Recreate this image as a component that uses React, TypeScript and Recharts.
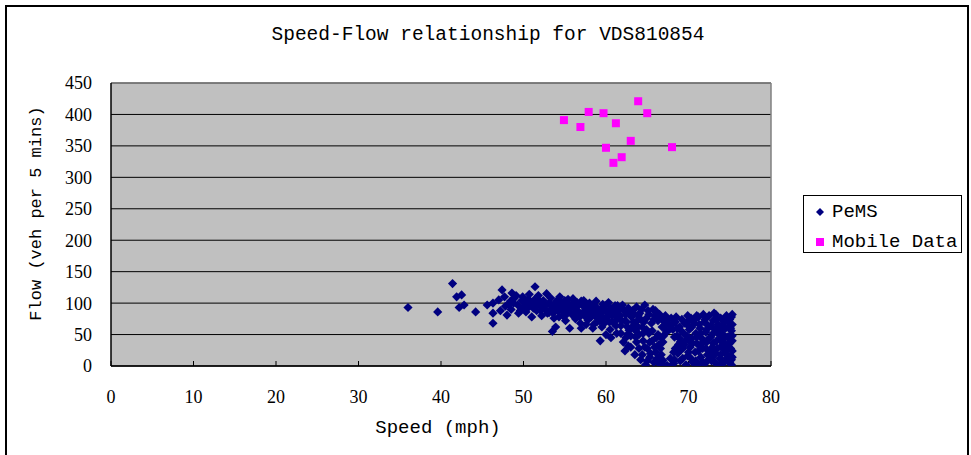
import React from 'react';
import {
  ScatterChart,
  Scatter,
  XAxis,
  YAxis,
  CartesianGrid,
  Legend,
  ReferenceLine,
  Label,
} from 'recharts';

const chartTitle = 'Speed-Flow relationship for VDS810854';
const xAxisTitle = 'Speed (mph)';
const yAxisTitle = 'Flow (veh per 5 mins)';
const seriesNames = ['PeMS', 'Mobile Data'];

const xTicks = [0, 10, 20, 30, 40, 50, 60, 70, 80];
const yTicks = [0, 50, 100, 150, 200, 250, 300, 350, 400, 450];

const mobileSpeed = [54.9, 56.9, 57.9, 59.7, 60.0, 61.2, 60.9, 61.9, 63.0, 63.9, 65.0, 68.0];
const mobileFlow = [391, 380, 404, 402, 347, 386, 323, 332, 358, 421, 402, 348];

const pemsPoints: [number, number][] = [
  [36.0, 93], [39.6, 86], [41.4, 131], [41.9, 110], [42.5, 113], [42.2, 93], [42.8, 97],
  [44.2, 86], [45.6, 97], [46.3, 100], [46.3, 68], [46.3, 84], [47.4, 121], [48.6, 116],
  [47.0, 105], [48.0, 81], [47.8, 95],
  [48.4, 103], [48.9, 108], [49.3, 97], [49.6, 88], [49.9, 110], [50.2, 101], [50.5, 92],
  [50.7, 114], [51.0, 78], [51.0, 97], [51.4, 126], [51.3, 105], [51.6, 88], [51.8, 112],
  [52.0, 96], [52.2, 80], [52.4, 104], [52.6, 91], [52.8, 115],
  [47.2, 88], [47.7, 110], [48.2, 98], [48.5, 90], [48.8, 100], [49.1, 112], [49.4, 84],
  [49.8, 104], [50.0, 94], [50.3, 86], [50.6, 106], [50.9, 100], [51.2, 92], [51.5, 99],
  [51.9, 104], [52.1, 88], [52.5, 97], [52.9, 84],
  [53.0, 99], [53.1, 85], [53.3, 108], [53.5, 55], [53.5, 92], [53.7, 76], [53.9, 62],
  [54.0, 103], [54.2, 88], [54.4, 110], [54.6, 96], [54.8, 80], [55.0, 104], [55.1, 72],
  [55.3, 90], [55.5, 98], [55.6, 60], [55.8, 83], [56.0, 107], [56.2, 94], [56.3, 75],
  [56.5, 101], [56.7, 86], [56.9, 68], [57.1, 97], [57.3, 104], [57.4, 80], [57.6, 90],
  [57.8, 73], [58.0, 100], [58.1, 86], [58.3, 94], [58.5, 66], [58.7, 79], [58.8, 103],
  [53.2, 100], [53.6, 84], [53.8, 97], [54.1, 92], [54.3, 78], [54.5, 101], [54.7, 87],
  [54.9, 95], [55.2, 82], [55.4, 106], [55.7, 92], [55.9, 99], [56.1, 80], [56.4, 88],
  [56.6, 96], [56.8, 78], [57.0, 103], [57.2, 85], [57.5, 95], [57.7, 84], [57.9, 92],
  [58.2, 78], [58.4, 88], [58.6, 97], [58.9, 84],
  [57.0, 60], [57.6, 66], [58.4, 60], [58.9, 70], [59.5, 62],
  [59.0, 91], [59.2, 72], [59.3, 40], [59.4, 84], [59.6, 98], [59.8, 68], [60.0, 88],
  [60.1, 78], [60.3, 101], [60.5, 58], [60.6, 92], [60.8, 70], [61.0, 83], [61.1, 96],
  [61.3, 52], [61.5, 76], [61.6, 89], [61.8, 64], [62.0, 97], [62.1, 38], [62.3, 24],
  [62.4, 82], [62.5, 70], [62.7, 92], [62.8, 57], [63.0, 30], [63.1, 78], [63.2, 88],
  [63.4, 64], [63.5, 18], [63.7, 94], [63.8, 72], [64.0, 50], [64.1, 84], [64.2, 10],
  [64.4, 62], [64.5, 40],
  [59.1, 80], [59.5, 92], [59.7, 76], [59.9, 96], [60.2, 84], [60.4, 70], [60.7, 80],
  [60.9, 90], [61.2, 64], [61.4, 96], [61.7, 80], [61.9, 72], [62.2, 88], [62.6, 62],
  [62.9, 84], [63.3, 70], [63.6, 56], [63.9, 80], [64.3, 90], [62.4, 45], [63.0, 48],
  [63.7, 38], [62.7, 32],
  [60.0, 50], [60.6, 45], [61.0, 70], [61.3, 86], [61.8, 52], [62.3, 72], [62.6, 50],
  [63.0, 60], [63.3, 84], [63.6, 46], [63.9, 62], [64.2, 74], [64.5, 52], [64.0, 28],
  [64.4, 18],
  [64.7, 97], [64.8, 2], [64.9, 76], [65.0, 28], [65.1, 88], [65.2, 52], [65.3, 14],
  [65.5, 68], [65.6, 40], [65.7, 90], [65.8, 6], [65.9, 80], [66.0, 22], [66.1, 45],
  [66.3, 72], [66.4, 34], [66.5, 3],
  [64.6, 70], [64.7, 30], [64.9, 58], [65.0, 8], [65.2, 82], [65.3, 38], [65.4, 20],
  [65.6, 56], [65.8, 74], [65.9, 30], [66.0, 88], [66.2, 12], [66.3, 50], [66.5, 82],
  [66.6, 28],
  [66.7, 76], [66.8, 62], [66.9, 9], [67.1, 70], [67.3, 54], [67.4, 1], [67.6, 66],
  [67.8, 12], [67.9, 76], [68.1, 58], [68.2, 4], [68.4, 70],
  [66.8, 4], [67.0, 62], [67.2, 80], [67.5, 74], [67.7, 58], [68.0, 66], [68.3, 10],
  [68.0, 2],
  [66.6, 46], [66.7, 18], [67.0, 48], [68.3, 46], [68.4, 28], [66.9, 38], [68.2, 22],
  [68.6, 48], [68.7, 20], [68.8, 34], [68.9, 62], [69.0, 8], [69.2, 74], [69.3, 28],
  [69.4, 52], [69.6, 40], [69.7, 2], [69.8, 66], [69.9, 16], [70.1, 58], [70.2, 30],
  [70.3, 76], [70.4, 44], [70.5, 6],
  [68.5, 78], [68.6, 60], [68.9, 44], [69.1, 26], [69.1, 56], [69.3, 12], [69.5, 68],
  [69.5, 34], [69.8, 48], [70.0, 22], [70.0, 72], [70.3, 12], [70.4, 62], [70.5, 36],
  [69.0, 38], [69.9, 80], [70.1, 40],
  [70.7, 68], [70.8, 22], [70.9, 52], [71.0, 36], [71.1, 2], [71.2, 78], [71.4, 60],
  [71.5, 14], [71.6, 44], [71.7, 28], [71.9, 70], [72.0, 4], [72.1, 54], [72.2, 38],
  [72.3, 18], [72.4, 64], [72.5, 80],
  [70.8, 74], [70.9, 8], [71.0, 46], [71.2, 24], [71.3, 66], [71.5, 52], [71.7, 6],
  [71.8, 38], [72.0, 74], [72.1, 28], [72.2, 58], [72.4, 10], [72.5, 44],
  [71.0, 80], [71.8, 82], [71.4, 32],
  [72.7, 46], [72.8, 8], [72.9, 30], [73.0, 72], [73.1, 84], [73.2, 58], [73.3, 20],
  [73.4, 40], [73.5, 2], [73.6, 66], [73.7, 50], [73.8, 12], [73.9, 76], [74.0, 32],
  [72.7, 64], [72.8, 24], [73.0, 52], [73.0, 36], [73.2, 6], [73.4, 74], [73.5, 28],
  [73.6, 56], [73.8, 42], [73.9, 18], [74.0, 64], [74.0, 4],
  [72.9, 14], [73.3, 82], [74.1, 38],
  [74.1, 58], [74.2, 4], [74.3, 44], [74.4, 70], [74.5, 20], [74.6, 80], [74.7, 34],
  [74.8, 8], [74.9, 62], [75.0, 48], [75.0, 74], [75.1, 16], [75.1, 28], [75.2, 2],
  [75.2, 56], [75.3, 40], [75.3, 66], [75.3, 82], [75.2, 10], [75.3, 24],
  [74.2, 50], [74.3, 26], [74.5, 74], [74.5, 60], [74.6, 12], [74.7, 46], [74.8, 70],
  [74.9, 28], [75.0, 36], [75.0, 6], [75.1, 60], [75.2, 78], [75.3, 48], [75.3, 14],
];

const pemsData = pemsPoints.map(([speed, flow]) => ({ speed, flow }));
const mobileData = mobileSpeed.map((speed, i) => ({ speed, flow: mobileFlow[i] }));

const NAVY = '#000080';
const MAGENTA = '#FF00FF';
const MONO = '"Liberation Mono", "DejaVu Sans Mono", monospace';
const SERIF = '"Liberation Serif", "DejaVu Serif", serif';

const DiamondShape = (props: any) => {
  const { cx, cy } = props;
  const r = 4.6;
  return (
    <polygon
      points={`${cx},${cy - r} ${cx + r},${cy} ${cx},${cy + r} ${cx - r},${cy}`}
      fill={NAVY}
    />
  );
};

const SquareShape = (props: any) => {
  const { cx, cy } = props;
  return <rect x={cx - 4} y={cy - 4} width={8} height={8} fill={MAGENTA} />;
};

const renderLegend = () => (
  <div
    style={{
      position: 'relative',
      width: 159,
      height: 58,
      boxSizing: 'border-box',
      border: '1px solid #000',
      background: '#fff',
      fontFamily: MONO,
      fontSize: 19,
      color: '#000',
    }}
  >
    <svg width={14} height={14} style={{ position: 'absolute', left: 9, top: 9 }}>
      <polygon points="7,3 11,7 7,11 3,7" fill={NAVY} />
    </svg>
    <div style={{ position: 'absolute', left: 28, top: 6, lineHeight: '21px', whiteSpace: 'nowrap' }}>
      {seriesNames[0]}
    </div>
    <svg width={14} height={14} style={{ position: 'absolute', left: 9, top: 39 }}>
      <rect x={3} y={3} width={8} height={8} fill={MAGENTA} />
    </svg>
    <div style={{ position: 'absolute', left: 28, top: 36, lineHeight: '21px', whiteSpace: 'nowrap' }}>
      {seriesNames[1]}
    </div>
  </div>
);

const YTitle = (props: any) => {
  const vb = props.viewBox || { x: 0, y: 83, width: 111, height: 283 };
  const x = vb.x + 41;
  const y = vb.y + vb.height / 2 - 11;
  return (
    <text
      x={x}
      y={y}
      transform={`rotate(-90, ${x}, ${y})`}
      textAnchor="middle"
      fontFamily={MONO}
      fontSize={17}
      fill="#000"
    >
      {yAxisTitle}
    </text>
  );
};

export default function App() {
  return (
    <div
      style={{
        position: 'absolute',
        left: 0,
        top: 0,
        width: 971,
        height: 455,
        background: '#fff',
        overflow: 'hidden',
      }}
    >
      <div
        style={{
          position: 'absolute',
          left: 5,
          top: 5,
          width: 964,
          height: 470,
          boxSizing: 'border-box',
          border: '2px solid #000',
        }}
      />
      <div
        style={{
          position: 'absolute',
          left: 0,
          top: 26,
          width: 976,
          textAlign: 'center',
          fontFamily: MONO,
          fontSize: 19.5,
          lineHeight: '19px',
          whiteSpace: 'nowrap',
          color: '#000',
        }}
      >
        {chartTitle}
      </div>
      <div style={{ position: 'absolute', left: 0, top: 0 }}>
        <ScatterChart
          width={971}
          height={455}
          margin={{ top: 83, right: 200, bottom: 0, left: 0 }}
        >
          <CartesianGrid
            vertical={false}
            stroke="#000"
            strokeWidth={1}
            fill="#C0C0C0"
            fillOpacity={1}
          />
          <XAxis
            type="number"
            dataKey="speed"
            domain={[0, 80]}
            ticks={xTicks}
            interval={0}
            height={89}
            axisLine={{ stroke: '#000', strokeWidth: 1.5 }}
            tickLine={{ stroke: '#000' }}
            tickSize={-5}
            tickMargin={29}
            tick={{ fill: '#000', fontFamily: SERIF, fontSize: 18 }}
            allowDataOverflow
          >
            <Label
              value={xAxisTitle}
              position="insideTop"
              offset={54}
              fill="#000"
              fontFamily={MONO}
              fontSize={19}
              dx={-3}
            />
          </XAxis>
          <YAxis
            type="number"
            dataKey="flow"
            domain={[0, 450]}
            ticks={yTicks}
            interval={0}
            width={111}
            axisLine={{ stroke: '#000', strokeWidth: 1.5 }}
            tickLine={false}
            tickSize={0}
            tickMargin={19}
            tick={{ fill: '#000', fontFamily: SERIF, fontSize: 18 }}
            allowDataOverflow
          >
            <Label content={<YTitle />} />
          </YAxis>
          <ReferenceLine y={450} stroke="#808080" strokeWidth={1.5} />
          <ReferenceLine x={80} stroke="#808080" strokeWidth={1.5} />
          <Legend
            layout="vertical"
            align="center"
            verticalAlign="middle"
            content={renderLegend}
            wrapperStyle={{ left: 803, top: 195, width: 159, height: 58 }}
          />
          <Scatter
            name={seriesNames[0]}
            data={pemsData}
            shape={DiamondShape}
            fill={NAVY}
            isAnimationActive={false}
          />
          <Scatter
            name={seriesNames[1]}
            data={mobileData}
            shape={SquareShape}
            fill={MAGENTA}
            isAnimationActive={false}
          />
        </ScatterChart>
      </div>
    </div>
  );
}
